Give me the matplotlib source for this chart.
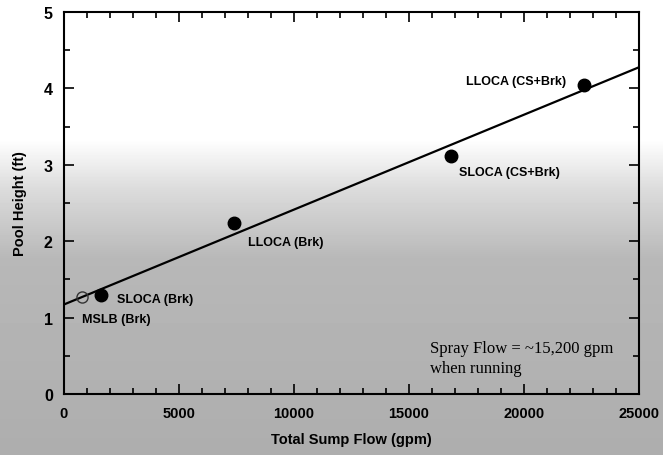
import numpy as np
import matplotlib
matplotlib.use("Agg")
import matplotlib.pyplot as plt

# ========== DATA ==========
cases = ['MSLB (Brk)', 'SLOCA (Brk)', 'LLOCA (Brk)', 'SLOCA (CS+Brk)', 'LLOCA (CS+Brk)']
sump_flow = [800, 1600, 7400, 16850, 22600]      # gpm
pool_height = [1.27, 1.30, 2.24, 3.12, 4.04]     # ft
open_marker = [True, False, False, False, False]

# label anchor points (data coords)
label_x = [800, 2300, 8000, 17200, 17500]
label_y = [0.98, 1.24, 1.99, 2.90, 4.10]

x_ticks = [0, 5000, 10000, 15000, 20000, 25000]
y_ticks = [0, 1, 2, 3, 4, 5]

plt.rcParams['font.family'] = ['Liberation Sans', 'DejaVu Sans']

fig = plt.figure(figsize=(6.63, 4.56), dpi=100)

# scanned-paper look: grey shading in the lower part
bg = fig.add_axes([0, 0, 1, 1], zorder=-1)
rows = np.arange(456)
shade = np.interp(rows, [0, 140, 190, 260, 456], [1.0, 1.0, 0.86, 0.72, 0.68])
bg.imshow(shade[:, None] * np.ones((1, 663)), cmap='gray', vmin=0, vmax=1,
          aspect='auto', extent=[0, 1, 0, 1])
bg.set_axis_off()

ax = fig.add_axes([0.0965, 0.134, 0.867, 0.8375])
ax.set_facecolor('none')

# linear fit through the points
coef = np.polyfit(sump_flow, pool_height, 1)
xs = np.array([0, 25000])
ax.plot(xs, np.polyval(coef, xs), color='black', lw=1.6)

for x, y, op in zip(sump_flow, pool_height, open_marker):
    if op:
        ax.plot(x, y, 'o', ms=8, mfc='none', mec='#333333', mew=1.0)
    else:
        ax.plot(x, y, 'o', ms=9, color='black')

for name, lx, ly in zip(cases, label_x, label_y):
    ax.text(lx, ly, name, fontsize=9, fontweight='bold', va='center', ha='left')

ax.text(15900, 0.47, 'Spray Flow = ~15,200 gpm\nwhen running',
        family=['Liberation Serif', 'DejaVu Serif'], fontsize=12,
        va='center', ha='left', linespacing=1.3)

ax.set_xlim(0, 25000)
ax.set_ylim(0, 5)
ax.set_xticks(x_ticks)
ax.set_yticks(y_ticks)
ax.set_xticks(np.arange(0, 25001, 1000), minor=True)
ax.set_yticks(np.arange(0, 5.01, 0.5), minor=True)
ax.tick_params(which='both', direction='in', top=True, right=True, width=1.2)
ax.tick_params(which='major', length=7)
ax.tick_params(axis='x', which='major', labelsize=10.5, pad=9)
ax.tick_params(axis='y', which='major', labelsize=11.5, pad=8)
ax.tick_params(which='minor', length=4)
for lab in ax.get_xticklabels() + ax.get_yticklabels():
    lab.set_fontweight('bold')
for sp in ax.spines.values():
    sp.set_linewidth(1.5)

ax.set_xlabel('Total Sump Flow (gpm)', fontsize=10.5, fontweight='bold', labelpad=8)
ax.set_ylabel('Pool Height (ft)', fontsize=10.5, fontweight='bold', labelpad=12)

fig.savefig('out.png', dpi=100)
